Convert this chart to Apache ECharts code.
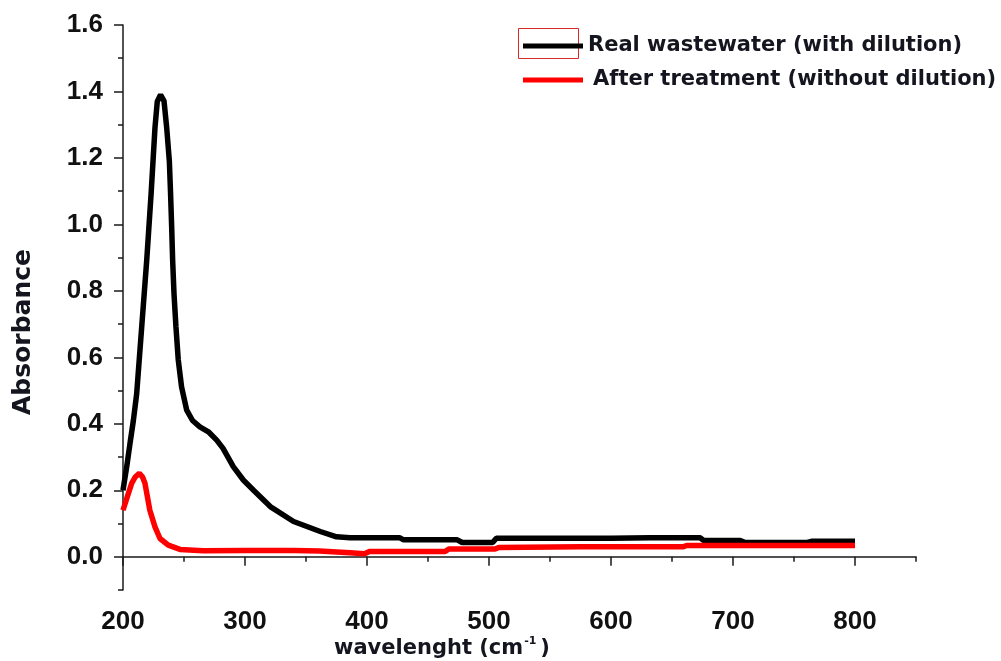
<!DOCTYPE html>
<html>
<head>
<meta charset="utf-8">
<script src="https://cdn.jsdelivr.net/npm/echarts@6/dist/echarts.min.js"></script>
<style>
  html, body { margin: 0; padding: 0; background: #ffffff; }
  #chart { width: 1001px; height: 661px; }
</style>
</head>
<body>
<div id="chart"></div>
<script>
// UV-Vis absorbance spectra: raw wastewater (diluted) and treated effluent
const seriesNames = ['Real wastewater (with dilution)', 'After treatment (without dilution)'];

const rawWavelength = [200, 203, 205.7, 208.5, 211.2, 215.3, 219.4, 223, 226.2, 228.1, 230.8, 233.6, 235.8, 238,
  239, 239.9, 240.7, 241.8, 243.4, 245.3, 248, 252.2, 257, 263, 270, 276.8, 282, 290.4, 298.6, 307, 320.7,
  339.8, 361.7, 375, 386, 400, 427, 430, 474, 478, 503, 506, 550, 600, 632, 673, 676, 706, 710, 761, 765, 800];
const rawAbsorbance = [0.20, 0.27, 0.34, 0.41, 0.49, 0.69, 0.89, 1.09, 1.29, 1.37, 1.39, 1.372, 1.292, 1.19,
  1.092, 0.992, 0.892, 0.792, 0.692, 0.592, 0.511, 0.441, 0.41, 0.391, 0.376, 0.351, 0.326, 0.271, 0.231, 0.20, 0.151,
  0.106, 0.076, 0.06, 0.057, 0.057, 0.057, 0.051, 0.051, 0.043, 0.043, 0.056, 0.056, 0.056, 0.057, 0.057, 0.049, 0.049, 0.043, 0.043, 0.047, 0.047];

const treatedWavelength = [200, 203.5, 207.1, 210, 213.4, 216, 218, 222, 226.2, 230.3, 237.1, 246.7, 265.8, 300,
  340, 361, 386, 398, 402, 464, 467, 505, 508, 575, 624, 659, 662, 800];
const treatedAbsorbance = [0.14, 0.18, 0.221, 0.24, 0.251, 0.24, 0.221, 0.14, 0.09, 0.055, 0.035, 0.022, 0.018, 0.019,
  0.019, 0.017, 0.012, 0.009, 0.016, 0.016, 0.023, 0.023, 0.028, 0.03, 0.03, 0.03, 0.034, 0.034];

const xTickLabels = [200, 300, 400, 500, 600, 700, 800];
const yTickLabels = [0.0, 0.2, 0.4, 0.6, 0.8, 1.0, 1.2, 1.4, 1.6];

const X_MIN = 200, X_MAX = 850, Y_MIN = -0.1, Y_MAX = 1.6;

const pairs = (xs, ys) => xs.map((x, i) => [x, ys[i]]);

const axisColor = '#1a1a1a';
const tickFont = { fontFamily: 'Liberation Sans, Arial, sans-serif', fontWeight: 'bold', fontSize: 26, color: '#111111' };
const titleFont = 'DejaVu Sans, sans-serif';
const textColor = '#15151f';

const chart = echarts.init(document.getElementById('chart'), null, { renderer: 'canvas' });

chart.setOption({
  backgroundColor: '#ffffff',
  animation: false,
  grid: { left: 123, right: 85, top: 25, bottom: 71, containLabel: false },
  xAxis: [
    { // major ticks and labels
      type: 'value', min: X_MIN, max: X_MAX, position: 'bottom',
      axisLine: { show: true, lineStyle: { color: axisColor, width: 1.5 } },
      axisTick: { show: true, inside: false, length: 9, customValues: xTickLabels, lineStyle: { color: axisColor, width: 1.5 } },
      axisLabel: { show: true, customValues: xTickLabels, margin: 19, ...tickFont },
      splitLine: { show: false }
    },
    { // minor ticks
      type: 'value', min: X_MIN, max: X_MAX, interval: 50, position: 'bottom',
      axisLine: { show: false },
      axisTick: { show: true, inside: false, length: 5, lineStyle: { color: axisColor, width: 1.5 } },
      axisLabel: { show: false },
      splitLine: { show: false }
    }
  ],
  yAxis: [
    { // major ticks and labels
      type: 'value', min: Y_MIN, max: Y_MAX, position: 'left',
      axisLine: { show: true, lineStyle: { color: axisColor, width: 1.5 } },
      axisTick: { show: true, inside: false, length: 9, customValues: yTickLabels, lineStyle: { color: axisColor, width: 1.5 } },
      axisLabel: { show: true, customValues: yTickLabels, margin: 20, formatter: v => Number(v).toFixed(1), ...tickFont },
      splitLine: { show: false }
    },
    { // minor ticks
      type: 'value', min: Y_MIN, max: Y_MAX, interval: 0.1, position: 'left',
      axisLine: { show: false },
      axisTick: { show: true, inside: false, length: 5, lineStyle: { color: axisColor, width: 1.5 } },
      axisLabel: { show: false },
      splitLine: { show: false }
    }
  ],
  legend: {
    orient: 'vertical',
    left: 518, top: 29,
    itemWidth: 60, itemHeight: 5, itemGap: 10,
    icon: 'rect',
    selectedMode: false,
    textStyle: { fontFamily: titleFont, fontWeight: 'bold', fontSize: 21, color: textColor, lineHeight: 24 },
    data: [
      { name: seriesNames[0], textStyle: { padding: [0, 0, 0, 0] } },
      { name: seriesNames[1], textStyle: { padding: [0, 0, 0, 5] } }
    ]
  },
  series: [
    {
      name: seriesNames[0], type: 'line', xAxisIndex: 0, yAxisIndex: 0,
      data: pairs(rawWavelength, rawAbsorbance),
      showSymbol: false, smooth: false,
      lineStyle: { color: '#000000', width: 5.5 },
      itemStyle: { color: '#000000' }
    },
    {
      name: seriesNames[1], type: 'line', xAxisIndex: 0, yAxisIndex: 0,
      data: pairs(treatedWavelength, treatedAbsorbance),
      showSymbol: false, smooth: false,
      lineStyle: { color: '#ff0000', width: 5.5 },
      itemStyle: { color: '#ff0000' }
    }
  ],
  graphic: [
    { // outline around the first legend key
      type: 'rect', silent: true,
      shape: { x: 518.5, y: 28.5, width: 60, height: 30 },
      style: { fill: 'none', stroke: '#d42a2a', lineWidth: 1 }
    },
    { // x-axis title
      type: 'text', left: 334, top: 636, silent: true,
      style: {
        text: '{a|wavelenght (cm}{s|-1}{a|)}',
        rich: {
          a: { fontFamily: titleFont, fontWeight: 'bold', fontSize: 21, fill: textColor, lineHeight: 26 },
          s: { fontFamily: titleFont, fontWeight: 'bold', fontSize: 11, fill: textColor, lineHeight: 26, verticalAlign: 'top', padding: [0, 4, 10, 1] }
        }
      }
    },
    { // y-axis title
      type: 'text', x: 23, y: 332, rotation: Math.PI / 2, silent: true,
      style: {
        text: 'Absorbance', align: 'center', verticalAlign: 'middle',
        fontFamily: titleFont, fontWeight: 'bold', fontSize: 25, fill: textColor
      }
    }
  ]
});
</script>
</body>
</html>
